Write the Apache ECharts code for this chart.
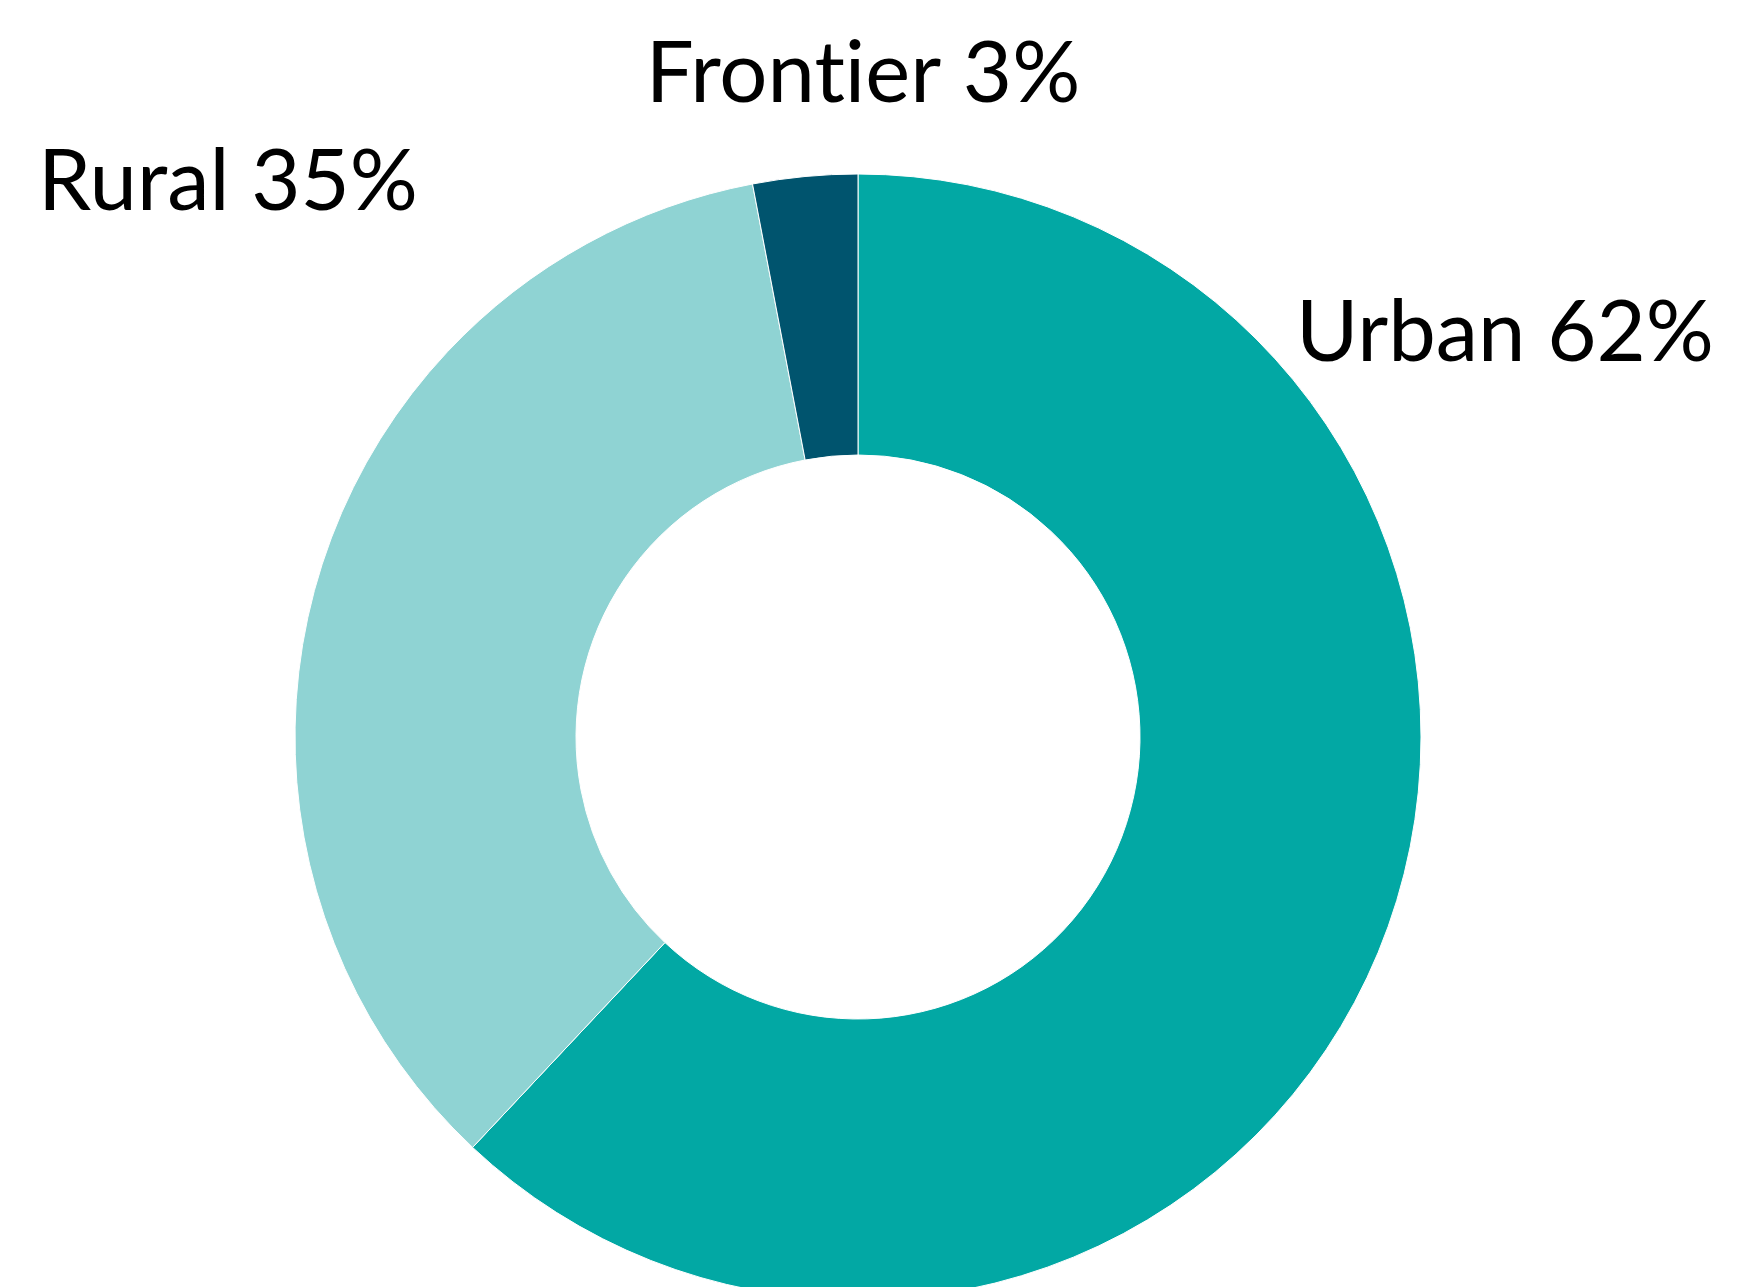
<!DOCTYPE html>
<html>
<head>
<meta charset="utf-8">
<script src="https://cdn.jsdelivr.net/npm/echarts@6/dist/echarts.min.js"></script>
<style>
html,body{margin:0;padding:0;background:#fff;}
#chart{width:1759px;height:1287px;}
</style>
</head>
<body>
<div id="chart"></div>
<script>
const categories = ['Urban', 'Rural', 'Frontier'];
const values = [62, 35, 3];
const colors = ['#02A8A4', '#8FD3D3', '#00546E'];
// label anchor positions (pixels) - layout only
const labelPos = [[1505, 334], [228, 183], [863, 75]];

const chart = echarts.init(document.getElementById('chart'), null, {renderer: 'canvas'});
chart.setOption({
  animation: false,
  backgroundColor: '#ffffff',
  series: [{
    type: 'pie',
    center: [858, 737],
    radius: [282, 563],
    startAngle: 90,
    clockwise: true,
    avoidLabelOverlap: false,
    data: categories.map((c, i) => ({name: c, value: values[i], itemStyle: {color: colors[i]}})),
    itemStyle: {borderColor: '#ffffff', borderWidth: 1},
    label: {
      show: true,
      position: 'outside',
      // zero-width non-joiner between "t" and "i" avoids the font's "ti" ligature
      formatter: p => p.name.replace(/ti/g, 't\u200Ci') + ' ' + p.value + '%',
      fontFamily: 'Lato',
      fontSize: 85,
      color: '#000000'
    },
    labelLine: {show: false},
    labelLayout: function (params) {
      const p = labelPos[params.dataIndex];
      return {x: p[0], y: p[1], align: 'center', verticalAlign: 'middle'};
    },
    emphasis: {disabled: true}
  }]
});
</script>
</body>
</html>
